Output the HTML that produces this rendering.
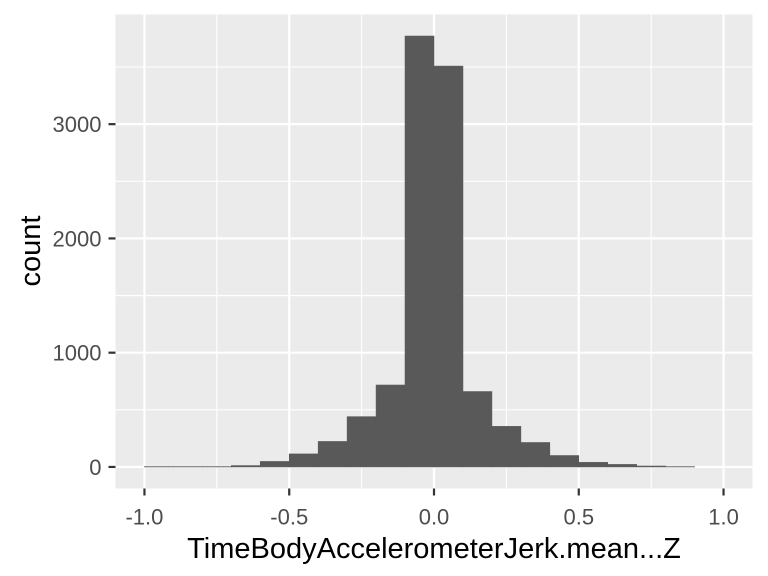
<!DOCTYPE html>
<html><head><meta charset="utf-8"><style>
html,body{margin:0;padding:0;background:#fff;}
svg{display:block;font-family:"Liberation Sans",Arial,sans-serif;}
</style></head><body>
<svg id="chart" width="768" height="576" viewBox="0 0 768 576" xmlns="http://www.w3.org/2000/svg">
<rect x="0" y="0" width="768" height="576" fill="#fff"/>
<g id="panel"></g>
<g id="bars"></g>
<g id="axes"></g>
<text x="434" y="558" text-anchor="middle" font-size="29" fill="#000">TimeBodyAccelerometerJerk.mean...Z</text>
<text transform="translate(40,251) rotate(-90)" text-anchor="middle" font-size="29" fill="#000">count</text>
</svg>
<script>
const binStarts = [-1.0,-0.9,-0.8,-0.7,-0.6,-0.5,-0.4,-0.3,-0.2,-0.1,0.0,0.1,0.2,0.3,0.4,0.5,0.6,0.7,0.8];
const counts = [3,3,3,12,48,114,223,440,717,3771,3508,660,355,214,100,40,22,8,3];
const binWidth = 0.1;
const xTicks = [-1.0,-0.5,0.0,0.5,1.0];
const xTickLabels = ["-1.0","-0.5","0.0","0.5","1.0"];
const yTicks = [0,1000,2000,3000];
const yTickLabels = ["0","1000","2000","3000"];

const NS="http://www.w3.org/2000/svg";
const PL=115.5, PR=752.5, PT=14.5, PB=488.5;
const xMin=-1.1, xMax=1.1;
const yMax=Math.max(...counts)*1.05, yMin=-Math.max(...counts)*0.05;
const xs=v=>PL+(v-xMin)/(xMax-xMin)*(PR-PL);
const ys=v=>PB-(v-yMin)/(yMax-yMin)*(PB-PT);
function mk(tag,attrs,parent){const e=document.createElementNS(NS,tag);for(const k in attrs)e.setAttribute(k,attrs[k]);parent.appendChild(e);return e;}
const panel=document.getElementById('panel'),bars=document.getElementById('bars'),axes=document.getElementById('axes');
mk('rect',{x:PL,y:PT,width:PR-PL,height:PB-PT,fill:'#ebebeb'},panel);
for(let i=0;i<xTicks.length-1;i++){const m=(xTicks[i]+xTicks[i+1])/2;const l=mk('line',{x1:xs(m),x2:xs(m),y1:PT,y2:PB,stroke:'#fff','stroke-width':1.1},panel);}
for(let i=0;i<yTicks.length;i++){const m=yTicks[i]+(yTicks[1]-yTicks[0])/2;if(ys(m)<PT)continue;const l=mk('line',{x1:PL,x2:PR,y1:ys(m),y2:ys(m),stroke:'#fff','stroke-width':1.1},panel);}
xTicks.forEach((t,i)=>{const x=xs(t);
 const g=mk('line',{x1:x,x2:x,y1:PT,y2:PB,stroke:'#fff','stroke-width':2.2},panel);
 const tk=mk('line',{x1:x,x2:x,y1:PB,y2:PB+7,stroke:'#333','stroke-width':2.2},axes);
 const tx=mk('text',{x:x,y:PB+36,'text-anchor':'middle','font-size':22,fill:'#4d4d4d'},axes);tx.textContent=xTickLabels[i];});
yTicks.forEach((t,i)=>{const y=ys(t);
 const g=mk('line',{x1:PL,x2:PR,y1:y,y2:y,stroke:'#fff','stroke-width':2.2},panel);
 const tk=mk('line',{x1:PL-7,x2:PL,y1:y,y2:y,stroke:'#333','stroke-width':2.2},axes);
 const tx=mk('text',{x:PL-14,y:y+8,'text-anchor':'end','font-size':22,fill:'#4d4d4d'},axes);tx.textContent=yTickLabels[i];});
binStarts.forEach((b,i)=>{const x0=xs(b),x1=xs(b+binWidth),y=ys(counts[i]);
 const r=mk('rect',{x:x0,y:y,width:x1-x0,height:ys(0)-y,fill:'#595959',stroke:'#595959','stroke-width':0.6},bars);
 
 });
</script>
</body></html>
